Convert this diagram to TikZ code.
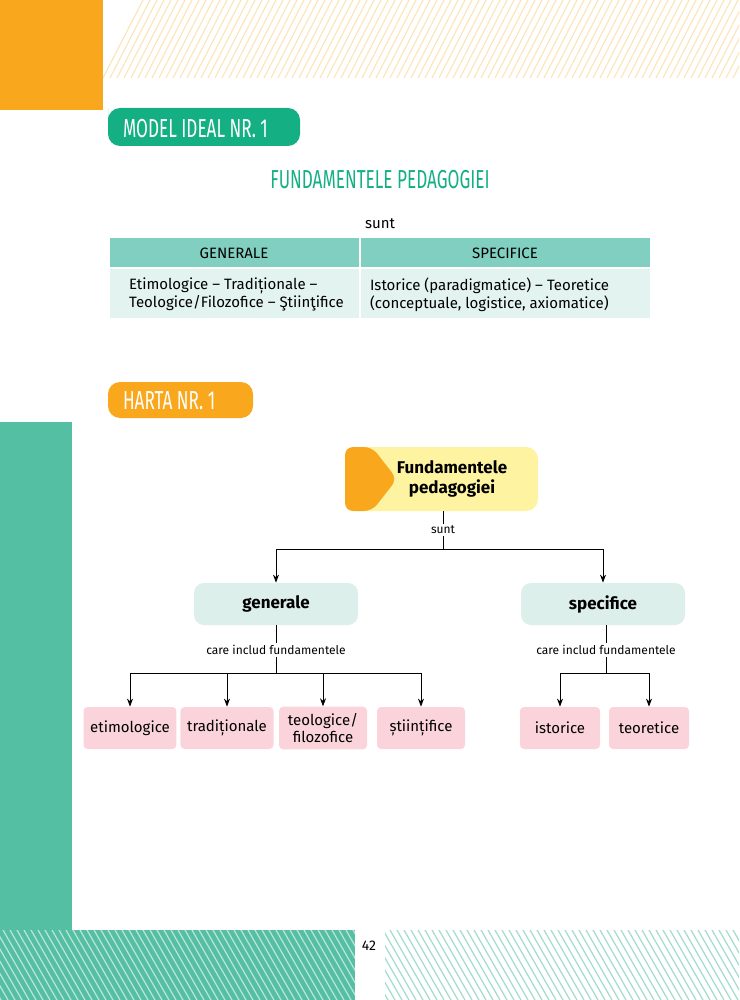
\documentclass[tikz,border=0pt]{standalone}
\usepackage{fontspec}
\setmainfont{Fira Sans}
\newfontfamily\headfont[FakeStretch=0.66]{Fira Sans}
\usetikzlibrary{positioning,arrows.meta}
\definecolor{orangeA}{HTML}{F9A81E}
\definecolor{greenA}{HTML}{14B084}
\definecolor{tealA}{HTML}{55BFA3}
\definecolor{tealB}{HTML}{80CFC0}
\definecolor{tealC}{HTML}{E3F3EF}
\definecolor{boxG}{HTML}{DCEFEA}
\definecolor{boxP}{HTML}{FAD4DA}
\definecolor{boxY}{HTML}{FDF3A0}
\tikzset{
  lvl/.style={rectangle,rounded corners=5pt,fill=boxG,minimum width=82pt,
    minimum height=21pt,font=\fontsize{8.5}{10}\selectfont\bfseries},
  leaf/.style={rectangle,rounded corners=2pt,fill=boxP,minimum width=44pt,
    minimum height=21pt,align=center,font=\fontsize{7.5}{8.5}\selectfont},
  lbl/.style={font=\fontsize{6}{7}\selectfont,inner sep=1pt},
  cell/.style={anchor=north west,minimum width=124pt,align=left,
    font=\fontsize{7.5}{9}\selectfont},
  arr/.style={-{Stealth[length=4pt,width=3pt]},thin}
}
\begin{document}
\begin{tikzpicture}[x=0.5pt,y=-0.5pt]
\useasboundingbox (0,0) rectangle (739,1000);

% page decoration
\fill[orangeA] (0,0) rectangle (103,110);
\begin{scope}
  \clip (103,0) rectangle (739,78);
  \foreach \i in {0,7,...,720}
    \draw[orangeA!30,line width=0.6pt] (103+\i,78) -- (103+\i+40,0);
\end{scope}
\fill[tealA] (0,422) rectangle (72,930);
\begin{scope}
  \clip (0,930) rectangle (355,1000);
  \fill[tealA] (0,930) rectangle (355,1000);
  \foreach \i in {-60,-53,...,360}
    \draw[white!60!tealA,line width=0.6pt] (\i,930) -- (\i+40,1000);
\end{scope}
\begin{scope}
  \clip (385,930) rectangle (739,1000);
  \foreach \i in {320,327,...,740}
    \draw[tealA!55,line width=0.6pt] (\i,930) -- (\i+40,1000);
\end{scope}
\node (page) at (369,946) {\fontsize{7}{8}\selectfont 42};

% model ideal
\fill[greenA,rounded corners=6pt] (108,146) -- (108,120) -- (108,108) -- (300,108)
  -- (300,146) -- cycle;
\node[text=white,anchor=west] (model) at (116,129)
  {\headfont\fontsize{13}{14}\selectfont MODEL IDEAL NR. 1};
\node[text=greenA] (title) at (380,180)
  {\headfont\fontsize{13}{14}\selectfont FUNDAMENTELE PEDAGOGIEI};
\node (sunt0) at (380,224) {\fontsize{7.5}{9}\selectfont sunt};
\fill[tealB] (110,238) rectangle (359,267);
\fill[tealB] (361,238) rectangle (650,267);
\fill[tealC] (110,269) rectangle (359,318);
\fill[tealC] (361,269) rectangle (650,318);
\node[font=\fontsize{7.5}{9}\selectfont] (gen0) at (234,253) {GENERALE};
\node[font=\fontsize{7.5}{9}\selectfont] (spec0) at (505,253) {SPECIFICE};
\node[cell] (genT) at (112,271)
  {Etimologice – Tradiționale –\\Teologice/Filozofice – Ştiinţifice};
\node[cell] (specT) at (363,271)
  {Istorice (paradigmatice) – Teoretice\\(conceptuale, logistice, axiomatice)};

% harta
\fill[orangeA,rounded corners=6pt] (108,418) -- (108,382) -- (253,382)
  -- (253,418) -- cycle;
\node[text=white,anchor=west] (harta) at (116,401)
  {\headfont\fontsize{13}{14}\selectfont HARTA NR. 1};

% map
\fill[boxY,rounded corners=6pt] (345,447) rectangle (538,511);
\fill[orangeA,rounded corners=4pt] (345,447) -- (372,447) -- (397,479)
  -- (372,511) -- (345,511) -- cycle;
\node[align=center,font=\fontsize{8.5}{10}\selectfont\bfseries] (root) at (452,479)
  {Fundamentele\\pedagogiei};
\coordinate (rootS) at (443,511);
\node[lbl] (sunt) at (443,530) {sunt};
\node[lvl] (gen) at (276,604) {generale};
\node[lvl] (spec) at (603,604) {specifice};
\node[lbl] (incG) at (276,650) {care includ fundamentele};
\node[lbl] (incS) at (606,650) {care includ fundamentele};
\node[leaf] (etim) at (130,728) {etimologice};
\node[leaf] (trad) at (227,728) {tradiționale};
\node[leaf] (teol) at (323,728) {teologice/\\filozofice};
\node[leaf] (stiin) at (421,728) {științifice};
\node[leaf,minimum width=40pt] (ist) at (560,728) {istorice};
\node[leaf,minimum width=40pt] (teor) at (649,728) {teoretice};

\draw[thin] (rootS) -- (sunt);
\draw[arr] (sunt) |- (443,549) -| (gen);
\draw[arr] (sunt) |- (443,549) -| (spec);
\draw[thin] (gen) -- (incG);
\draw[thin] (spec.south -| incS) -- (incS);
\foreach \n in {etim,trad,teol,stiin}
  \draw[arr] (incG) |- (276,673) -| (\n);
\foreach \n in {ist,teor}
  \draw[arr] (incS) |- (606,673) -| (\n);
\end{tikzpicture}
\end{document}
